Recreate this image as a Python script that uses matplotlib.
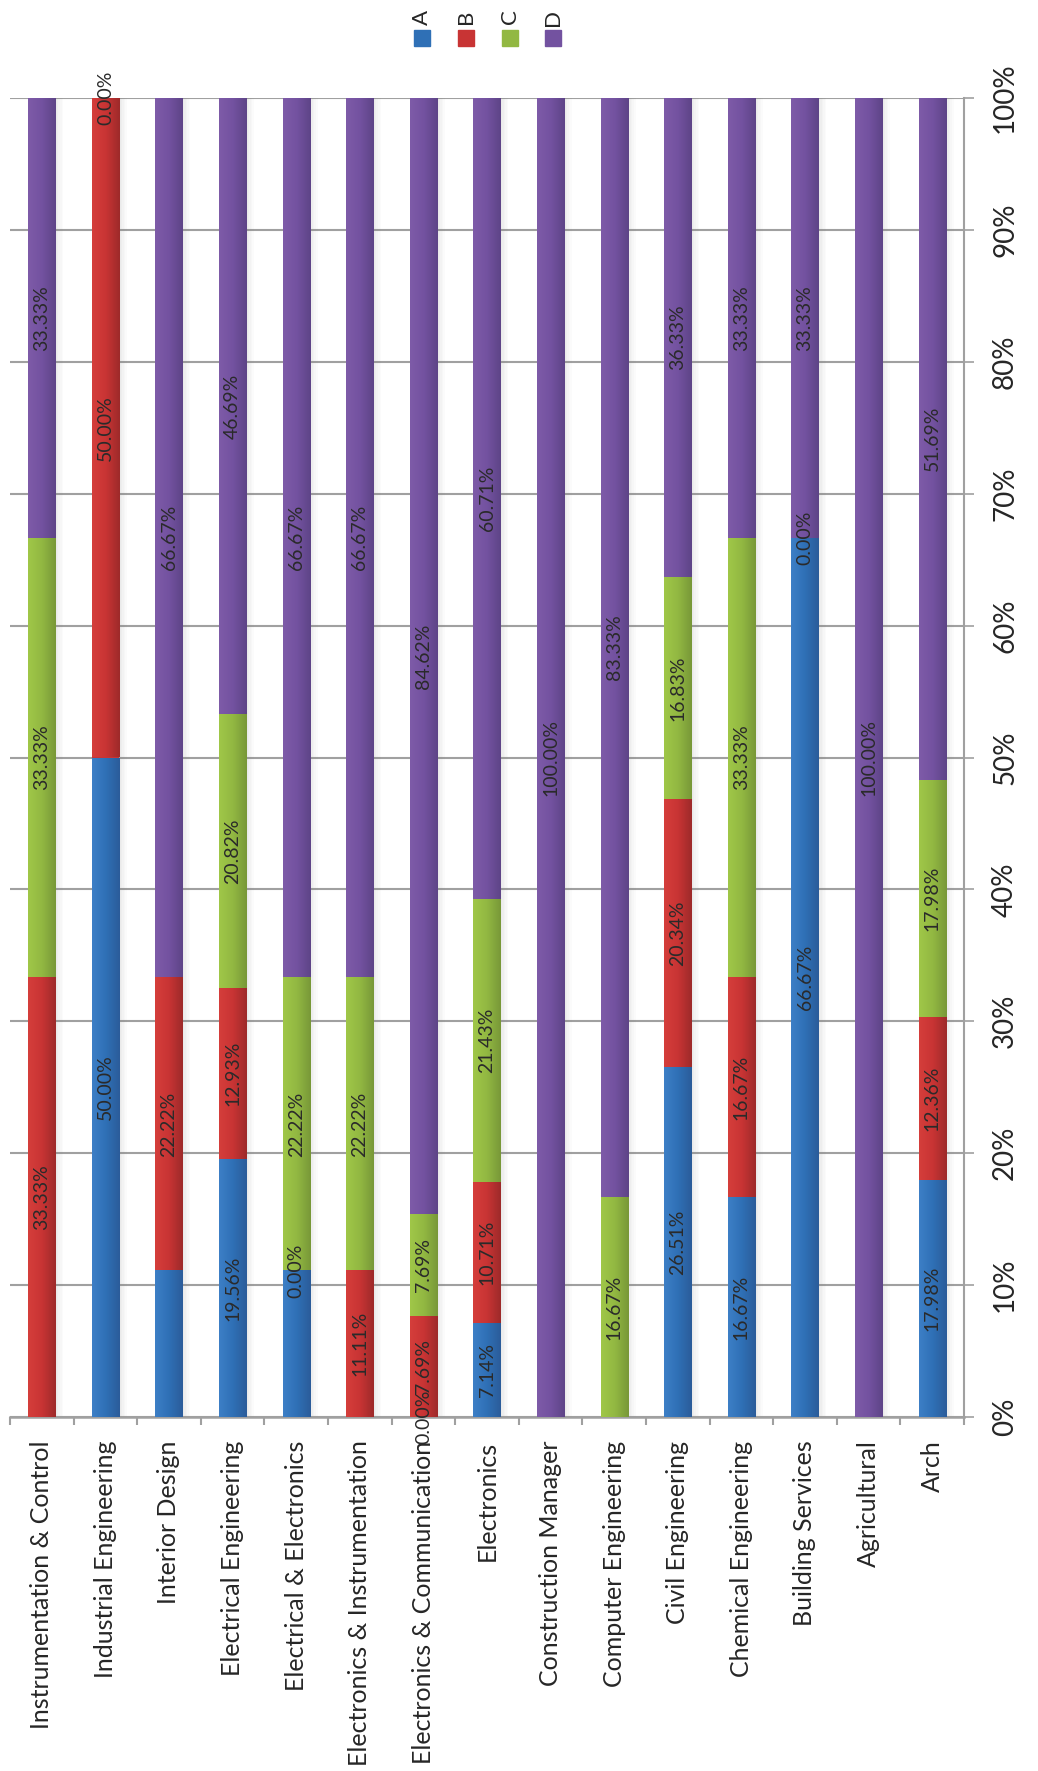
import numpy as np
import matplotlib
matplotlib.use("Agg")
import matplotlib.pyplot as plt
from matplotlib.colors import LinearSegmentedColormap
from matplotlib.patches import Rectangle

plt.rcParams['font.family'] = ['Lato', 'DejaVu Sans']

categories = ["Instrumentation & Control", "Industrial Engineering", "Interior Design",
              "Electrical Engineering", "Electrical & Electronics",
              "Electronics & Instrumentation", "Electronics & Communication",
              "Electronics", "Construction Manager", "Computer Engineering",
              "Civil Engineering", "Chemical Engineering", "Building Services",
              "Agricultural", "Arch"]

A = [0, 50.00, 11.11, 19.56, 11.11, 0, 0.00, 7.14, 0, 0, 26.51, 16.67, 66.67, 0, 17.98]
B = [33.33, 50.00, 22.22, 12.93, 0.00, 11.11, 7.69, 10.71, 0, 0, 20.34, 16.67, 0.00, 0, 12.36]
C = [33.33, 0, 0, 20.82, 22.22, 22.22, 7.69, 21.43, 0, 16.67, 16.83, 33.33, 0, 0, 17.98]
D = [33.33, 0.00, 66.67, 46.69, 66.67, 66.67, 84.62, 60.71, 100.00, 83.33, 36.33, 33.33, 33.33, 100.00, 51.69]

A_lab = [False, True, False, True, False, False, True, True, False, False, True, True, True, False, True]
B_lab = [True, True, True, True, True, True, True, True, False, False, True, True, True, False, True]
C_lab = [True, False, False, True, True, True, True, True, False, True, True, True, False, False, True]
D_lab = [True] * 15

series_names = ["A", "B", "C", "D"]
yticks = [0, 10, 20, 30, 40, 50, 60, 70, 80, 90, 100]
ytick_labels = [f"{t}%" for t in yticks]

grad = {
    "A": ("#3D7FC6", "#2F70B6", "#2B5C9A"),
    "B": ("#D53E3B", "#C83434", "#9E2A2A"),
    "C": ("#A0C748", "#92B842", "#789838"),
    "D": ("#7E5BA8", "#7352A0", "#5E4487"),
}
flat = {k: v[1] for k, v in grad.items()}

W, H = 1038, 1771
fig = plt.figure(figsize=(W / 100, H / 100), dpi=100)
ax = fig.add_axes([10 / W, 1 - 1417 / H, 954 / W, (1417 - 98) / H])
ax.set_xlim(0, 15)
ax.set_ylim(0, 100)

x = np.arange(15) + 0.5
bw = 0.425
gray = "#A0A0A0"

# shadows
tot = np.array(A) + np.array(B) + np.array(C) + np.array(D)
for k in range(5):
    ax.bar(x + bw / 2 + 0.025 * k + 0.0125, tot, width=0.025, color="#808080",
           alpha=0.16 * (1 - k / 5), zorder=2, linewidth=0)

gradient = np.linspace(0, 1, 64).reshape(1, -1)
bottom = np.zeros(15)
for name, vals, labs in zip(series_names, [A, B, C, D], [A_lab, B_lab, C_lab, D_lab]):
    vals = np.array(vals)
    cmap = LinearSegmentedColormap.from_list(name, list(grad[name]))
    bars = ax.bar(x, vals, bottom=bottom, width=bw, color=flat[name], zorder=3, linewidth=0)
    for patch in bars:
        if patch.get_height() <= 0:
            continue
        x0, y0 = patch.get_x(), patch.get_y()
        im = ax.imshow(gradient, extent=[x0, x0 + patch.get_width(), y0, y0 + patch.get_height()],
                       cmap=cmap, aspect='auto', zorder=4, interpolation='bilinear')
        im.set_clip_path(patch)
    for i in range(15):
        if labs[i]:
            ax.text(x[i], bottom[i] + vals[i] / 2, f"{vals[i]:.2f}%", rotation=90,
                    ha='center', va='center', fontsize=14, color='#2a2a2a', zorder=6)
    bottom = bottom + vals

ax.set_xlim(0, 15)
ax.set_ylim(0, 100)

# grid and axes
ax.set_yticks(yticks)
ax.set_yticklabels(ytick_labels, rotation=90, va='center', fontsize=20, color='#262626')
ax.yaxis.tick_right()
ax.tick_params(axis='y', direction='out', length=7.2, width=1.2, color=gray, pad=13)
ax.grid(axis='y', color=gray, linewidth=1.5, zorder=1)
ax.set_axisbelow(True)

ax.set_xticks(x)
ax.set_xticklabels(categories, rotation=90, ha='center', va='top', fontsize=18, color='#262626')
ax.set_xticks(np.arange(16), minor=True)
ax.tick_params(axis='x', which='major', length=0, pad=17)
ax.tick_params(axis='x', which='minor', direction='out', length=6, width=1.5, color=gray)

for s in ['top', 'left']:
    ax.spines[s].set_visible(False)
ax.spines['right'].set_color(gray)
ax.spines['right'].set_linewidth(1.5)
ax.spines['bottom'].set_color(gray)
ax.spines['bottom'].set_linewidth(1.8)

# legend
leg_x = [422, 466, 510, 553]
for name, lx in zip(series_names, leg_x):
    fig.patches.append(Rectangle(((lx - 8) / W, 1 - 46 / H), 16 / W, 16 / H,
                                 transform=fig.transFigure, color=flat[name]))
    fig.text(lx / W, 1 - 17 / H, name, rotation=90, ha='center', va='center',
             fontsize=16, color='#262626')

fig.savefig("out.png", dpi=100)
